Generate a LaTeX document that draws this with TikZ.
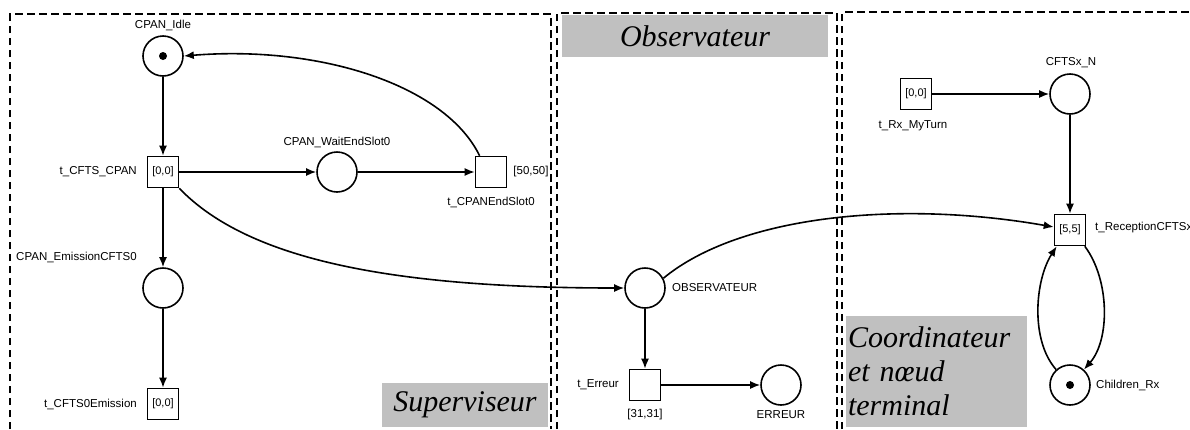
\documentclass[tikz,border=0pt]{standalone}
\usepackage{fontspec}
\setmainfont{Liberation Serif}
\newfontfamily\labfont{Liberation Sans}
\usetikzlibrary{arrows.meta}
\definecolor{boxgray}{RGB}{192,192,192}
\begin{document}
\begin{tikzpicture}[x=1pt,y=-1pt,
  place/.style={circle,draw,line width=1.6pt,minimum size=40pt,inner sep=0pt},
  trans/.style={rectangle,draw,line width=1.6pt,minimum size=31pt,inner sep=0pt,font=\labfont\fontsize{11}{12}\selectfont},
  tok/.style={circle,fill,minimum size=8pt,inner sep=0pt},
  lbl/.style={inner sep=0pt,font=\labfont\fontsize{11.5}{13}\selectfont},
  arc/.style={line width=1.6pt,-{Latex[length=10pt,width=8pt]}},
  zone/.style={line width=1.3pt,dash pattern=on 7.5pt off 4.5pt},
  title/.style={fill=boxgray,inner sep=0pt,font=\itshape\fontsize{30}{34}\selectfont}]
\useasboundingbox (0,0) rectangle (1190,429);
% zones
\draw[zone] (10,429) -- (10,14) -- (551,14) -- (551,429);
\draw[zone] (557,429) -- (557,13) -- (837,13) -- (837,429);
\draw[zone] (842,429) -- (842,12) -- (1190,12);
% titles
\node[title,minimum width=266pt,minimum height=42pt] (tObs) at (695,36) {Observateur};
\node[title,minimum width=166pt,minimum height=44pt] (tSup) at (465,405) {Superviseur};
\node[title,minimum width=181pt,minimum height=111pt,text width=177pt,align=left,inner xsep=2pt] (tCoord) at (936.5,371.5) {Coordinateur\\et n\oe ud\\terminal};
% nodes
\node[place] (Idle) at (163,56) {};
\node[tok] (IdleTok) at (Idle) {};
\node[trans] (tCFTS) at (163,172) {[0,0]};
\node[place] (Wait) at (337,172) {};
\node[trans] (tEnd) at (491,172) {};
\node[place] (Emis) at (163,288) {};
\node[trans] (tEmis) at (163,404) {[0,0]};
\node[place] (Obs) at (645,288) {};
\node[trans] (tErr) at (645,385) {};
\node[place] (Err) at (781,385) {};
\node[trans] (tRx) at (916,94) {[0,0]};
\node[place] (CN) at (1070,94) {};
\node[trans] (tRec) at (1070,230) {[5,5]};
\node[place] (Ch) at (1070,385) {};
\node[tok] (ChTok) at (Ch) {};
% labels
\node[lbl] (lIdle) at (163,25) {CPAN\_Idle};
\node[lbl,anchor=east] (ltCFTS) at (137,172) {t\_CFTS\_CPAN};
\node[lbl] (lWait) at (337,142) {CPAN\_WaitEndSlot0};
\node[lbl] (lEndT) at (531,172) {[50,50]};
\node[lbl] (lEnd) at (491,202) {t\_CPANEndSlot0};
\node[lbl,anchor=east] (lEmis) at (137,257) {CPAN\_EmissionCFTS0};
\node[lbl,anchor=east] (ltEmis) at (137,404) {t\_CFTS0Emission};
\node[lbl,anchor=west] (lObs) at (672,288) {OBSERVATEUR};
\node[lbl,anchor=east] (ltErr) at (619,385) {t\_Erreur};
\node[lbl] (ltErrT) at (645,415) {[31,31]};
\node[lbl] (lErr) at (781,415) {ERREUR};
\node[lbl] (ltRx) at (913,126) {t\_Rx\_MyTurn};
\node[lbl] (lCN) at (1071,63) {CFTSx\_N};
\node[lbl,anchor=west] (ltRec) at (1095,228) {t\_ReceptionCFTSx};
\node[lbl,anchor=west] (lCh) at (1096,385) {Children\_Rx};
% arcs
\draw[arc] (Idle) -- (tCFTS);
\draw[arc] (tCFTS) -- (Wait);
\draw[arc] (Wait) -- (tEnd);
\draw[arc] (tEnd.125) .. controls (445,85) and (320,45) .. (Idle.east);
\draw[arc] (tCFTS) -- (Emis);
\draw[arc] (Emis) -- (tEmis);
\draw[arc] (tCFTS.south east) .. controls (250,262) and (400,288) .. (Obs.west);
\draw[arc] (Obs) -- (tErr);
\draw[arc] (tErr) -- (Err);
\draw[arc] (Obs.28) .. controls (740,215) and (900,200) .. ([yshift=3pt]tRec.west);
\draw[arc] (tRx) -- (CN);
\draw[arc] (CN) -- (tRec);
\draw[arc] ([xshift=-1.5pt]tRec.south east) .. controls (1110,280) and (1110,340) .. (Ch.48);
\draw[arc] (Ch.132) .. controls (1030,340) and (1035,280) .. ([xshift=3pt]tRec.south west);
\end{tikzpicture}
\end{document}
